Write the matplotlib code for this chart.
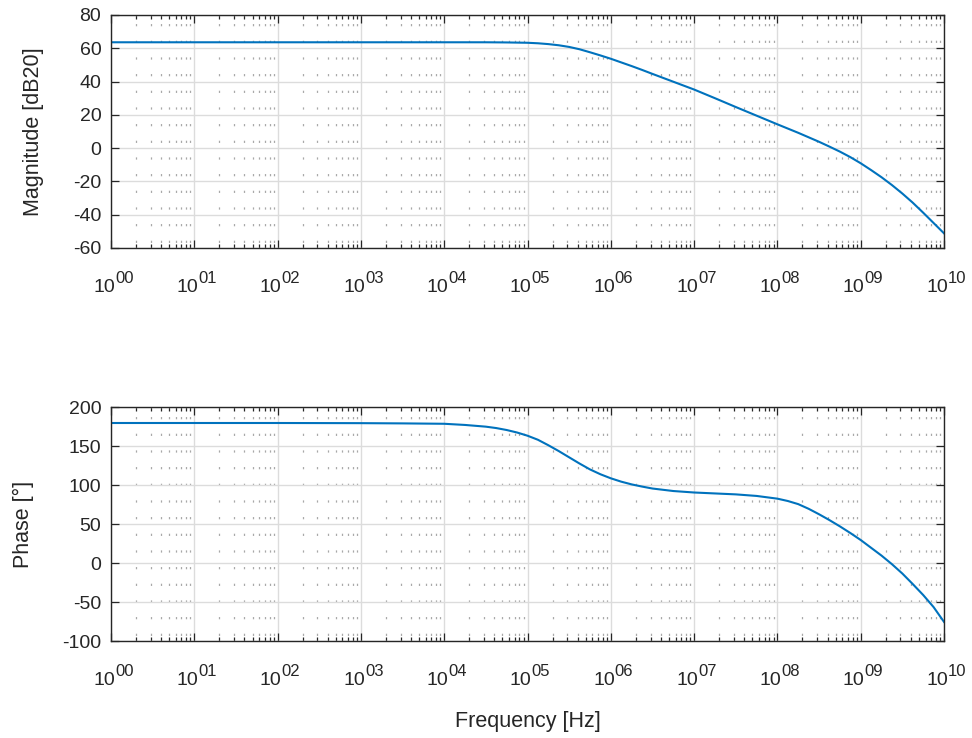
import numpy as np
import matplotlib
matplotlib.use("Agg")
import matplotlib.pyplot as plt
from matplotlib.ticker import FixedLocator, LogLocator, NullFormatter
from matplotlib.transforms import offset_copy

# values, x given as log10(frequency in Hz)
log_freq_mag = [0, 1, 2, 3, 4, 4.5, 4.75, 5.0, 5.125, 5.25, 5.375, 5.5, 5.625,
                5.75, 5.875, 6.0, 6.125, 6.25, 6.375, 6.5, 6.75, 7.0, 7.25, 7.5,
                7.75, 8.0, 8.25, 8.5, 8.625, 8.75, 8.875, 9.0, 9.125, 9.25,
                9.375, 9.5, 9.625, 9.75, 9.875, 10.0]
magnitude_db = [63.6, 63.6, 63.6, 63.6, 63.6, 63.6, 63.5, 63.3, 63.0, 62.5, 61.8,
                60.8, 59.4, 57.6, 55.7, 53.7, 51.5, 49.3, 47.0, 44.6, 39.9, 35.2,
                30.0, 24.7, 19.5, 14.3, 9.2, 3.8, 0.9, -2.1, -5.4, -9.1, -13.2,
                -17.5, -22.2, -27.3, -32.8, -38.8, -45.0, -51.2]

log_freq_phase = [0, 1, 2, 3, 3.5, 4.0, 4.25, 4.5, 4.625, 4.75, 4.875, 5.0,
                  5.125, 5.25, 5.375, 5.5, 5.625, 5.75, 5.875, 6.0, 6.125, 6.25,
                  6.375, 6.5, 6.75, 7.0, 7.25, 7.5, 7.75, 8.0, 8.125, 8.25,
                  8.375, 8.5, 8.625, 8.75, 8.875, 9.0, 9.125, 9.25, 9.375, 9.5,
                  9.625, 9.75, 9.875, 10.0]
phase_deg = [179.5, 179.5, 179.5, 179.3, 179.0, 178.5, 177.0, 174.8, 173.0, 170.5,
             167.3, 163.2, 158.0, 151.0, 143.5, 135.5, 127.5, 120.0, 113.8, 108.6,
             104.3, 100.8, 98.0, 95.5, 92.3, 90.4, 89.2, 88.0, 86.0, 82.5, 79.5,
             75.5, 69.5, 62.5, 55.0, 47.0, 38.5, 29.5, 19.5, 9.5, -1.5, -13.5,
             -27.0, -41.0, -56.5, -75.5]

decades = list(range(0, 11))

LINE_COLOR = "#0072BD"
TEXT_COLOR = "#262626"

plt.rcParams["font.family"] = ["Liberation Sans", "DejaVu Sans"]
plt.rcParams["axes.unicode_minus"] = False
plt.rcParams["lines.scale_dashes"] = False


def decade_labels(fig, ax):
    # "10" plus a raised two digit exponent, drawn as plain text
    base = ax.get_xaxis_transform()
    for d in decades:
        ax.text(10.0 ** d, 0, "10", ha="right", va="baseline", fontsize=14,
                color=TEXT_COLOR, clip_on=False,
                transform=offset_copy(base, fig=fig, x=4, y=-44, units="dots"))
        ax.text(10.0 ** d, 0, "%02d" % d, ha="left", va="baseline", fontsize=12,
                color=TEXT_COLOR, clip_on=False,
                transform=offset_copy(base, fig=fig, x=4, y=-35, units="dots"))


def style_axes(fig, ax, ylim, yticks, ylabel, label_x):
    ax.set_xscale("log")
    ax.set_xlim(10.0 ** decades[0], 10.0 ** decades[-1])
    ax.set_ylim(*ylim)
    ax.yaxis.set_major_locator(FixedLocator(yticks))
    ax.xaxis.set_major_locator(FixedLocator([10.0 ** d for d in decades]))
    ax.xaxis.set_minor_locator(LogLocator(base=10, subs=range(2, 10), numticks=100))
    ax.xaxis.set_major_formatter(NullFormatter())
    ax.xaxis.set_minor_formatter(NullFormatter())

    ax.set_axisbelow(True)
    ax.grid(True, which="major", color="#dcdcdc", linewidth=1.0)
    ax.grid(True, which="minor", axis="x", color="#a8a8a8", linewidth=0.9,
            linestyle=(8, (1.6, 10.4)))

    ax.tick_params(which="both", direction="in", top=True, right=True,
                   colors=TEXT_COLOR, width=0.9)
    ax.tick_params(which="major", length=5.8, labelsize=14)
    ax.tick_params(which="minor", length=2.8)
    ax.tick_params(axis="y", pad=7)
    for spine in ax.spines.values():
        spine.set_color(TEXT_COLOR)
        spine.set_linewidth(1.0)
    ax.set_ylabel(ylabel, fontsize=15.5, color=TEXT_COLOR)
    ax.yaxis.set_label_coords(label_x, 0.5)
    decade_labels(fig, ax)


fig = plt.figure(figsize=(9.72, 7.38), dpi=100)
ax_mag = fig.add_axes([0.1142, 0.6640, 0.8570, 0.3157])
ax_phase = fig.add_axes([0.1142, 0.1314, 0.8570, 0.3171])

ax_mag.plot(10.0 ** np.array(log_freq_mag), magnitude_db, color=LINE_COLOR,
            linewidth=1.5, solid_joinstyle="round")
style_axes(fig, ax_mag, (-60, 80), range(-60, 81, 20), "Magnitude [dB20]", -0.080)

ax_phase.plot(10.0 ** np.array(log_freq_phase), phase_deg, color=LINE_COLOR,
              linewidth=1.5, solid_joinstyle="round")
style_axes(fig, ax_phase, (-100, 200), range(-100, 201, 50), "Phase [°]", -0.093)
ax_phase.set_xlabel("Frequency [Hz]", fontsize=15.5, color=TEXT_COLOR)
ax_phase.xaxis.set_label_coords(0.5, -0.300)

fig.savefig("out.png", dpi=100)
plt.close(fig)
